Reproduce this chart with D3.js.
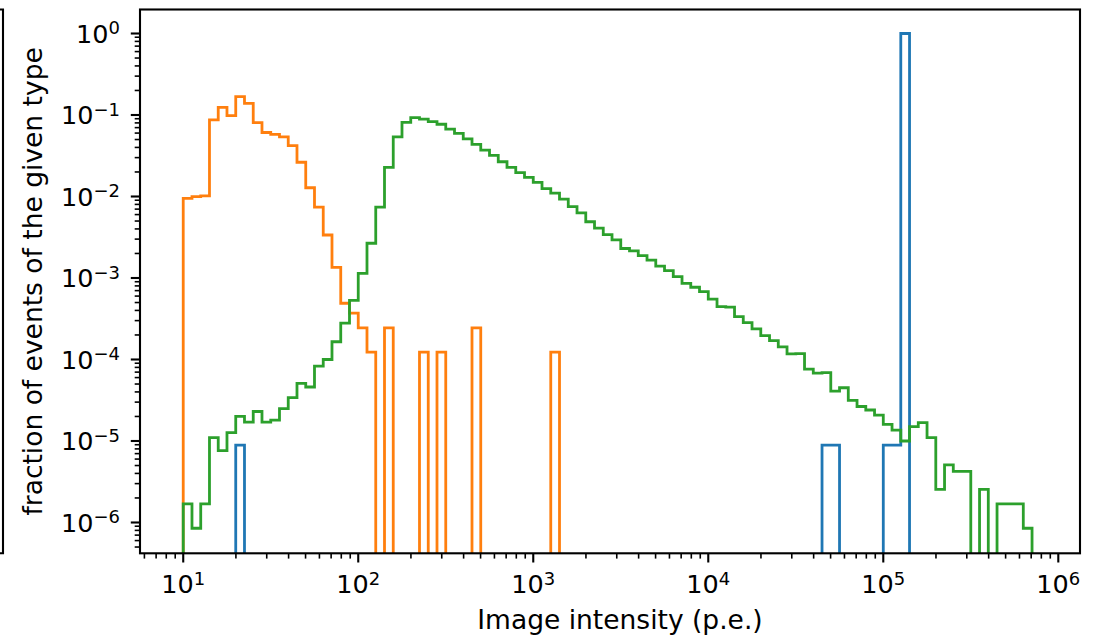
<!DOCTYPE html>
<html lang="en">
<head>
<meta charset="utf-8" />
<title>Image intensity</title>
<script src="https://d3js.org/d3.v7.min.js"></script>
<style>
  body { margin: 0; background: #fff; }
  svg { display: block; }
  text { font-family: "DejaVu Sans", sans-serif; fill: #000; }
</style>
</head>
<body>
<div id="chart"></div>
<script>

// histogram bins, 20 per decade, 10^1 .. 10^6
var bin_start = 1, bin_stop = 6, bins_per_decade = 20;

var blue_frac = [
  0, 0, 0, 0, 0, 0, 8.9e-6, 0, 0, 0,
  0, 0, 0, 0, 0, 0, 0, 0, 0, 0,
  0, 0, 0, 0, 0, 0, 0, 0, 0, 0,
  0, 0, 0, 0, 0, 0, 0, 0, 0, 0,
  0, 0, 0, 0, 0, 0, 0, 0, 0, 0,
  0, 0, 0, 0, 0, 0, 0, 0, 0, 0,
  0, 0, 0, 0, 0, 0, 0, 0, 0, 0,
  0, 0, 0, 8.9e-6, 8.9e-6, 0, 0, 0, 0, 0,
  8.9e-6, 8.9e-6, 0.99996, 0, 0, 0, 0, 0, 0, 0,
  0, 0, 0, 0, 0, 0, 0, 0, 0, 0
];

var orange_frac = [
  9.5e-3, 9.95e-3, 1.02e-2, 8.7e-2, 0.124, 9.8e-2, 0.168, 0.139, 8.05e-2, 6.1e-2,
  5.8e-2, 5.4e-2, 4.2e-2, 2.63e-2, 1.28e-2, 7.4e-3, 3.37e-3, 1.35e-3, 4.9e-4, 3.7e-4,
  2.45e-4, 1.23e-4, 0, 2.45e-4, 0, 0, 0, 1.23e-4, 0, 1.23e-4,
  0, 0, 0, 2.45e-4, 0, 0, 0, 0, 0, 0,
  0, 0, 1.23e-4, 0, 0, 0, 0, 0, 0, 0,
  0, 0, 0, 0, 0, 0, 0, 0, 0, 0,
  0, 0, 0, 0, 0, 0, 0, 0, 0, 0,
  0, 0, 0, 0, 0, 0, 0, 0, 0, 0,
  0, 0, 0, 0, 0, 0, 0, 0, 0, 0,
  0, 0, 0, 0, 0, 0, 0, 0, 0, 0
];

var green_frac = [
  1.69e-6, 8.5e-7, 1.69e-6, 1.1e-5, 7.6e-6, 1.27e-5, 2.0e-5, 1.7e-5, 2.3e-5, 1.7e-5,
  1.8e-5, 2.5e-5, 3.4e-5, 5.1e-5, 4.6e-5, 8.3e-5, 1.0e-4, 1.65e-4, 2.8e-4, 5.3e-4,
  1.14e-3, 2.67e-3, 7.4e-3, 2.28e-2, 5.4e-2, 8.1e-2, 9.3e-2, 8.9e-2, 8.3e-2, 7.7e-2,
  6.7e-2, 5.96e-2, 5.1e-2, 4.37e-2, 3.7e-2, 3.2e-2, 2.67e-2, 2.28e-2, 1.96e-2, 1.72e-2,
  1.49e-2, 1.25e-2, 1.1e-2, 9.3e-3, 7.5e-3, 6.3e-3, 4.9e-3, 4.1e-3, 3.4e-3, 2.94e-3,
  2.3e-3, 2.15e-3, 1.88e-3, 1.66e-3, 1.4e-3, 1.23e-3, 1.04e-3, 8.6e-4, 7.7e-4, 6.8e-4,
  5.5e-4, 4.45e-4, 4.4e-4, 3.35e-4, 2.83e-4, 2.37e-4, 1.96e-4, 1.7e-4, 1.43e-4, 1.17e-4,
  1.18e-4, 7.6e-5, 6.8e-5, 6.9e-5, 4.1e-5, 4.5e-5, 3.15e-5, 2.65e-5, 2.4e-5, 2.08e-5,
  1.6e-5, 1.36e-5, 1.0e-5, 1.5e-5, 1.68e-5, 1.1e-5, 2.55e-6, 5.1e-6, 4.25e-6, 4.25e-6,
  0, 2.55e-6, 0, 1.69e-6, 1.69e-6, 1.69e-6, 8.5e-7, 0, 0, 0
];

var x_ticks = [1e1, 1e2, 1e3, 1e4, 1e5, 1e6];
var x_tick_exp = ["1", "2", "3", "4", "5", "6"];
var y_ticks = [1e0, 1e-1, 1e-2, 1e-3, 1e-4, 1e-5, 1e-6];
var y_tick_exp = ["0", "\u22121", "\u22122", "\u22123", "\u22124", "\u22125", "\u22126"];

var x_label = "Image intensity (p.e.)";
var y_label = "fraction of events of the given type";

var width = 1098, height = 639;
var p_left = 140, p_right = 1080, p_top = 9.5, p_bottom = 553.3;

var svg = d3.select("#chart").append("svg")
    .attr("width", width)
    .attr("height", height);

var x = d3.scaleLog().domain([Math.pow(10, 0.753), Math.pow(10, 6.124)]).range([p_left, p_right]);
var y = d3.scaleLog().domain([Math.pow(10, -6.378), Math.pow(10, 0.2945)]).range([p_bottom, p_top]);

var n_bins = (bin_stop - bin_start) * bins_per_decade;
var edges = d3.range(n_bins + 1).map(function(k) { return Math.pow(10, bin_start + k / bins_per_decade); });

svg.append("clipPath").attr("id", "plotclip")
  .append("rect")
    .attr("x", p_left).attr("y", p_top)
    .attr("width", p_right - p_left).attr("height", p_bottom - p_top);

function ypos(v) {
  return v > 0 ? y(v) : p_bottom + 30;
}

function step_points(vals) {
  var pts = [[x(edges[0]), p_bottom + 30]];
  vals.forEach(function(v, i) {
    pts.push([x(edges[i]), ypos(v)]);
    pts.push([x(edges[i + 1]), ypos(v)]);
  });
  pts.push([x(edges[vals.length]), p_bottom + 30]);
  return pts;
}

var line = d3.line();
var series = [
  {vals: blue_frac, color: "#1f77b4"},
  {vals: orange_frac, color: "#ff7f0e"},
  {vals: green_frac, color: "#2ca02c"}
];

var plot = svg.append("g").attr("clip-path", "url(#plotclip)");
series.forEach(function(s) {
  plot.append("path")
    .attr("d", line(step_points(s.vals)))
    .attr("fill", "none")
    .attr("stroke", s.color)
    .attr("stroke-width", 2.8)
    .attr("stroke-linejoin", "miter");
});

// minor ticks
var x_minor = [], y_minor = [];
for (var d = 0; d <= 6; d++) {
  for (var m = 2; m <= 9; m++) {
    var v = m * Math.pow(10, d);
    if (x(v) >= p_left && x(v) <= p_right) x_minor.push(v);
  }
}
for (var d = -7; d <= 0; d++) {
  for (var m = 2; m <= 9; m++) {
    var v = m * Math.pow(10, d);
    if (y(v) >= p_top && y(v) <= p_bottom) y_minor.push(v);
  }
}

svg.selectAll(".xminor").data(x_minor).enter().append("line")
  .attr("x1", function(d) { return x(d); }).attr("x2", function(d) { return x(d); })
  .attr("y1", p_bottom).attr("y2", p_bottom + 5.3)
  .attr("stroke", "#000").attr("stroke-width", 1.6);

svg.selectAll(".yminor").data(y_minor).enter().append("line")
  .attr("y1", function(d) { return y(d); }).attr("y2", function(d) { return y(d); })
  .attr("x1", p_left).attr("x2", p_left - 5.3)
  .attr("stroke", "#000").attr("stroke-width", 1.6);

svg.selectAll(".xmajor").data(x_ticks).enter().append("line")
  .attr("x1", function(d) { return x(d); }).attr("x2", function(d) { return x(d); })
  .attr("y1", p_bottom).attr("y2", p_bottom + 9.2)
  .attr("stroke", "#000").attr("stroke-width", 2.1);

svg.selectAll(".ymajor").data(y_ticks).enter().append("line")
  .attr("y1", function(d) { return y(d); }).attr("y2", function(d) { return y(d); })
  .attr("x1", p_left).attr("x2", p_left - 9.2)
  .attr("stroke", "#000").attr("stroke-width", 2.1);

// tick labels: 10 with superscript
var fs = 25.5, sup_fs = 18;

var xl = svg.selectAll(".xlab").data(x_ticks).enter().append("text")
  .attr("x", function(d) { return x(d); })
  .attr("y", 593)
  .attr("text-anchor", "middle")
  .attr("font-size", fs);
xl.append("tspan").text("10");
xl.append("tspan").attr("dy", -8.5).attr("font-size", sup_fs)
  .text(function(d, i) { return x_tick_exp[i]; });

var yl = svg.selectAll(".ylab").data(y_ticks).enter().append("text")
  .attr("x", 120)
  .attr("y", function(d) { return y(d) + 9.3; })
  .attr("text-anchor", "end")
  .attr("font-size", fs);
yl.append("tspan").text("10");
yl.append("tspan").attr("dy", -8.5).attr("font-size", sup_fs)
  .text(function(d, i) { return y_tick_exp[i]; });

// frame
svg.append("rect")
  .attr("x", p_left).attr("y", p_top)
  .attr("width", p_right - p_left).attr("height", p_bottom - p_top)
  .attr("fill", "none").attr("stroke", "#000").attr("stroke-width", 2.1);

// edge of the neighbouring panel, cut off at the left
svg.append("path")
  .attr("d", "M0," + p_top + "H3V" + p_bottom + "H0")
  .attr("fill", "none").attr("stroke", "#000").attr("stroke-width", 2.1);

svg.append("text")
  .attr("x", 620)
  .attr("y", 629)
  .attr("text-anchor", "middle")
  .attr("font-size", 26.5)
  .text(x_label);

svg.append("text")
  .attr("transform", "translate(42," + ((p_top + p_bottom) / 2) + ") rotate(-90)")
  .attr("text-anchor", "middle")
  .attr("font-size", 26.5)
  .text(y_label);

</script>
</body>
</html>
